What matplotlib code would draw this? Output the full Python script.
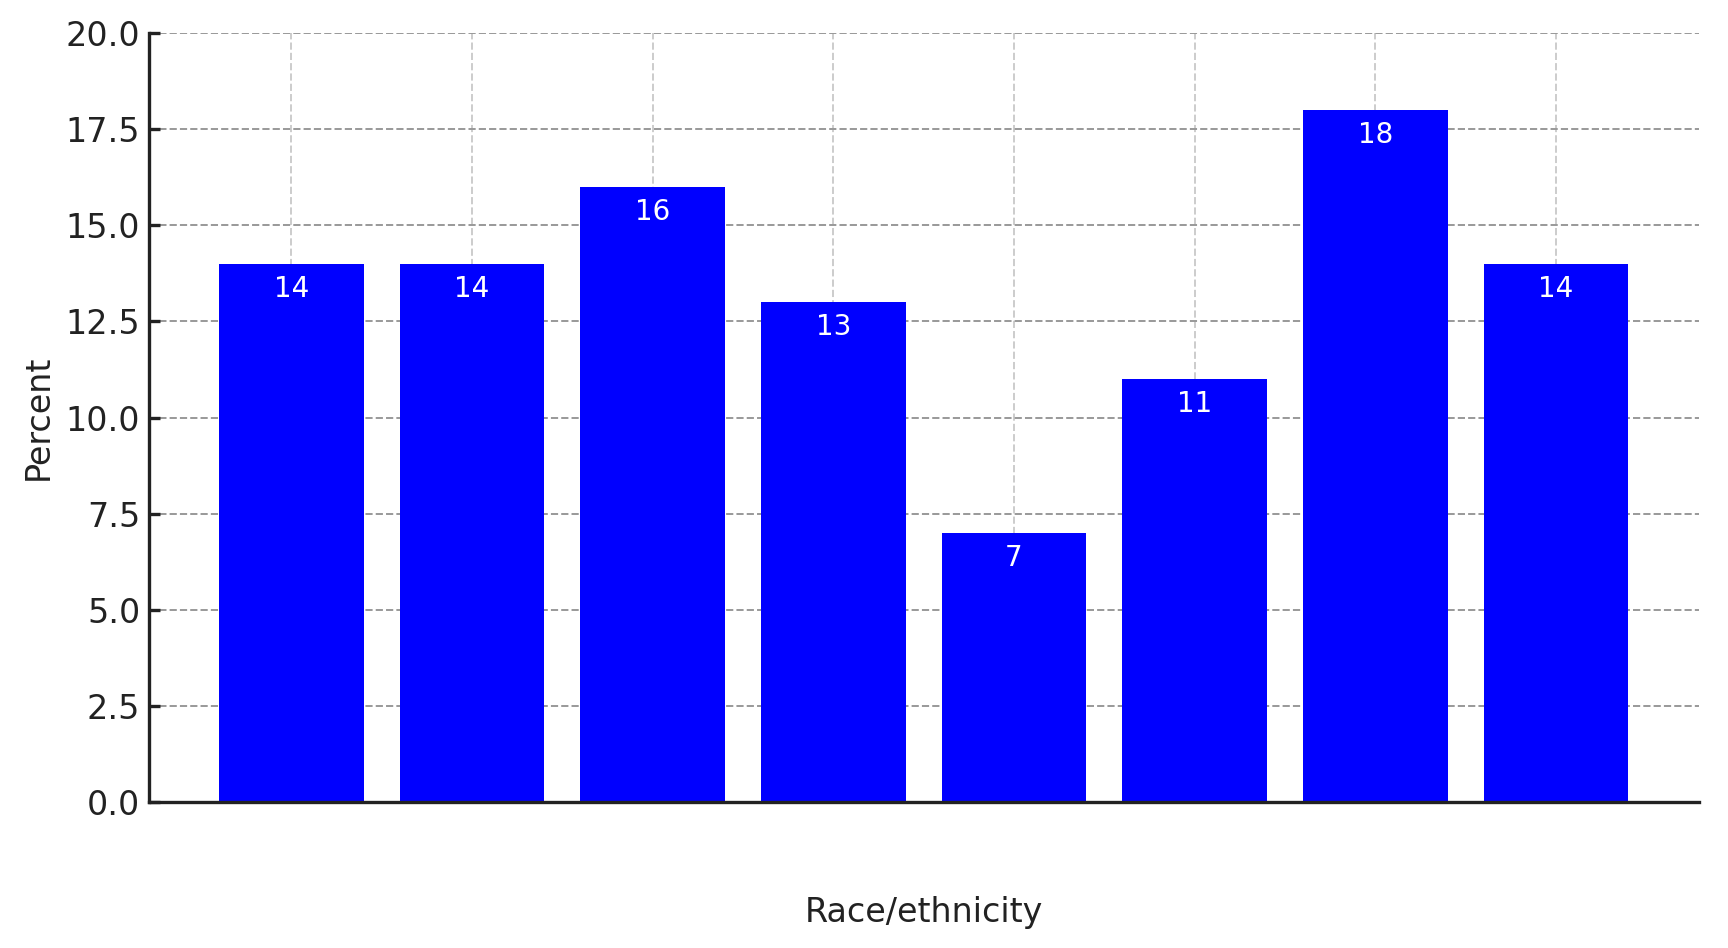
import matplotlib
matplotlib.use('Agg')
import matplotlib.pyplot as plt

# Values
categories = ['A', 'B', 'C', 'D', 'E', 'F', 'G', 'H']
percents = [14, 14, 16, 13, 7, 11, 18, 14]
y_ticks = [0.0, 2.5, 5.0, 7.5, 10.0, 12.5, 15.0, 17.5, 20.0]

fig = plt.figure(figsize=(8.64, 4.74), dpi=200)
ax = fig.add_axes([0.086, 0.154, 0.897, 0.811])

x = list(range(len(categories)))
bars = ax.bar(x, percents, width=0.8, color='#0000ff', zorder=2)

# Value labels inside the top of each bar
for xi, v in zip(x, percents):
    ax.text(xi, v - 0.28, str(v), ha='center', va='top', color='white',
            fontsize=10, zorder=3)

ax.set_ylim(0, 20)
ax.set_yticks(y_ticks)
ax.set_yticklabels([f'{t:.1f}' for t in y_ticks], fontsize=12, color='#222222')
ax.set_xticks(x)
ax.set_xticklabels(categories, color='white', fontsize=1)
ax.tick_params(axis='x', length=0)
ax.tick_params(axis='y', direction='in', length=4, width=1.2, color='#222222', pad=3)

ax.yaxis.grid(True, linestyle='--', color='#999999', linewidth=0.7, zorder=0)
ax.xaxis.grid(True, linestyle='--', color='#cccccc', linewidth=0.7, zorder=0)
ax.set_axisbelow(True)

for side in ['top', 'right']:
    ax.spines[side].set_visible(False)
for side in ['left', 'bottom']:
    ax.spines[side].set_linewidth(1.2)
    ax.spines[side].set_color('#222222')

ax.set_ylabel('Percent', fontsize=12, color='#222222', labelpad=4)
ax.set_xlabel('Race/ethnicity', fontsize=12, color='#222222', labelpad=29)

fig.savefig('out.png', dpi=200)
